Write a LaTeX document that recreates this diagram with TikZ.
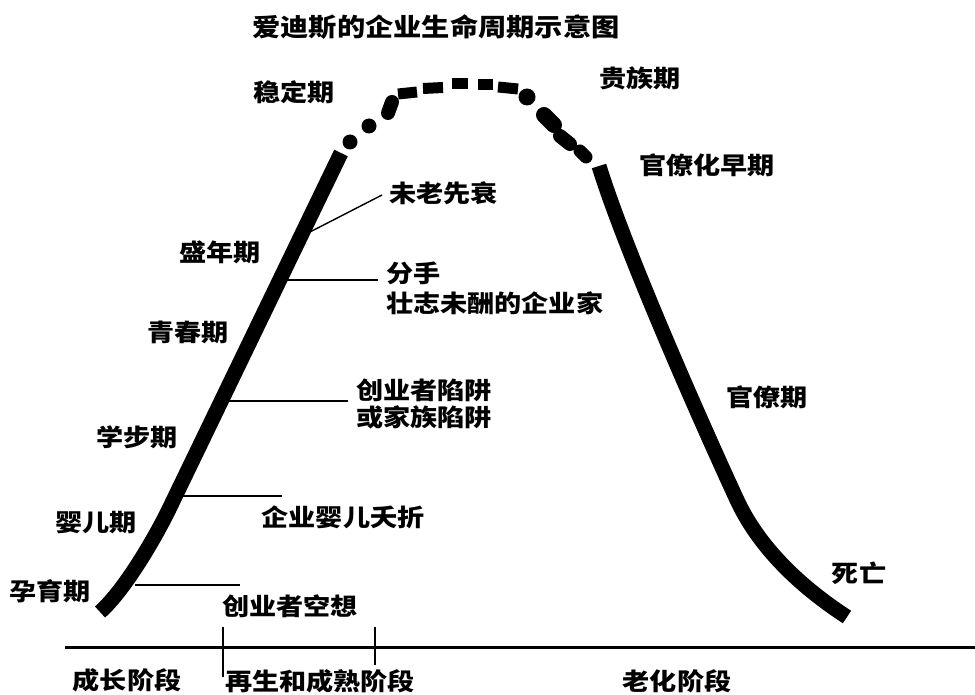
\documentclass[tikz,border=0pt]{standalone}
\usepackage{fontspec}
\newfontfamily\cjk{Noto Sans CJK SC}[FakeStretch=1.13]
\newcommand\labelfont{\cjk\bfseries\fontsize{24}{27}\selectfont}
\newcommand\titlefont{\cjk\bfseries\fontsize{25}{30}\selectfont}
\begin{document}
\begin{tikzpicture}[x=1pt,y=-1pt,
  lbl/.style={font=\labelfont, inner sep=0pt},
  ttl/.style={font=\titlefont, inner sep=0pt},
  curve/.style={line width=15pt, line join=round},
  leader/.style={line width=1.4pt},
  axisline/.style={line width=3pt},
  tickline/.style={line width=2.5pt},
  topdash/.style={line width=11pt},
  blob/.style={line cap=round}]
\useasboundingbox (0,0) rectangle (975,695);

% title
\node[ttl] (title) at (436,27) {爱迪斯的企业生命周期示意图};

% growth curve (solid parts)
\coordinate (l0) at (100,612);
\coordinate (l1) at (172,503);
\coordinate (l2) at (341,153);
\draw[curve] (l0) .. controls (125,590) and (157,535) .. (l1) -- (l2);
\coordinate (r0) at (599,166);
\coordinate (r1) at (737,500);
\coordinate (r2) at (847,617);
\draw[curve] (r0) .. controls (625,250) and (700,420) .. (r1)
  .. controls (755,539) and (790,580) .. (r2);

% dotted top
\fill (350,142) circle (7.5);
\fill (369,126) circle (7.5);
\draw[blob, line width=14pt] (388,113) -- (392,102);
\draw[topdash] (398,94) -- (417,92);
\draw[topdash] (423,88.5) -- (443,87.5);
\draw[topdash] (452,84) -- (468,84);
\draw[topdash] (478,84.5) -- (493,84.5);
\draw[topdash] (498,87) -- (518,89);
\fill (527,97) circle (8.5);
\draw[blob, line width=16pt] (544,115) -- (554,125);
\draw[blob, line width=14pt] (560,136) -- (570,144);
\draw[blob, line width=13pt] (580,151) -- (586,157);

% stage labels
\node[lbl] (wending) at (294,92) {稳定期};
\node[lbl] (guizu) at (640,78) {贵族期};
\node[lbl] (guanliaohua) at (707,165) {官僚化早期};
\node[lbl] (shengnian) at (220,252) {盛年期};
\node[lbl] (qingchun) at (188,332) {青春期};
\node[lbl] (xuebu) at (137,437) {学步期};
\node[lbl] (yinger) at (96,523) {婴儿期};
\node[lbl] (yunyu) at (50,591) {孕育期};
\node[lbl] (guanliao) at (767,397) {官僚期};
\node[lbl] (siwang) at (859,573) {死亡};

% trap labels
\node[lbl, anchor=west] (weilao) at (389,193) {未老先衰};
\node[lbl, anchor=west] (fenshou) at (386,273) {分手};
\node[lbl, anchor=west] (zhuangzhi) at (386,303) {壮志未酬的企业家};
\node[lbl, anchor=west] (chuangye) at (356,390) {创业者陷阱};
\node[lbl, anchor=west] (jiazu) at (356,417) {或家族陷阱};
\node[lbl] (yaozhe) at (343,517) {企业婴儿夭折};
\node[lbl] (kongxiang) at (290,606) {创业者空想};

% leader lines
\coordinate (p1) at (308,233); \coordinate (q1) at (382,195);
\coordinate (p2) at (285,280); \coordinate (q2) at (378,280);
\coordinate (p3) at (227,401); \coordinate (q3) at (348,401);
\coordinate (p4) at (182,496); \coordinate (q4) at (282,496);
\coordinate (p5) at (135,585); \coordinate (q5) at (240,585);
\draw[leader] (p1) -- (q1);
\draw[leader] (p2) -- (q2);
\draw[leader] (p3) -- (q3);
\draw[leader] (p4) -- (q4);
\draw[leader] (p5) -- (q5);

% axis
\coordinate (a0) at (65,647); \coordinate (a1) at (975,647);
\draw[axisline] (a0) -- (a1);
\coordinate (t1a) at (223,627); \coordinate (t1b) at (223,677);
\coordinate (t2a) at (375,627); \coordinate (t2b) at (375,665);
\draw[tickline] (t1a) -- (t1b);
\draw[tickline] (t2a) -- (t2b);
\node[lbl] (chengzhang) at (127,680) {成长阶段};
\node[lbl] (zaisheng) at (320,681) {再生和成熟阶段};
\node[lbl] (laohua) at (677,681) {老化阶段};
\end{tikzpicture}
\end{document}
